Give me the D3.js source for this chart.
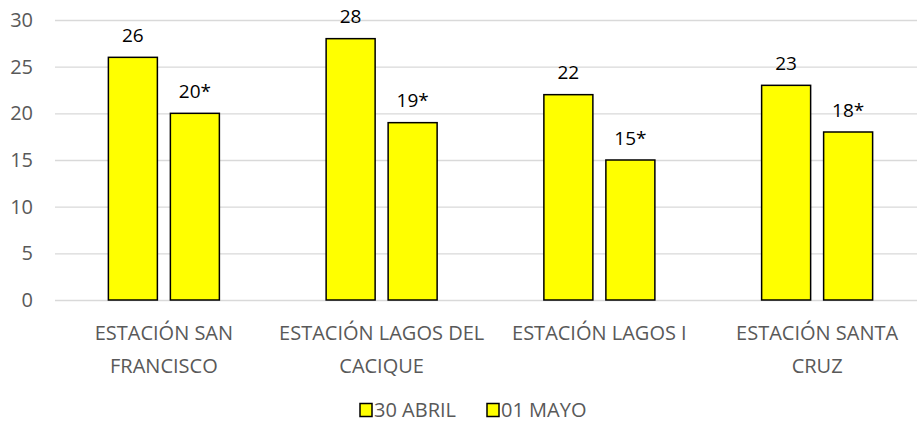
<!DOCTYPE html>
<html>
<head>
<meta charset="utf-8">
<script src="https://cdn.jsdelivr.net/npm/d3@7"></script>
<style>
    body { margin: 0; background: #fff; }
    svg text { font-family: "Open Sans", sans-serif; }
</style>
</head>
<body>
<svg width="917" height="423"></svg>
<script>
var categories = [["ESTACIÓN SAN", "FRANCISCO"], ["ESTACIÓN LAGOS DEL", "CACIQUE"], ["ESTACIÓN LAGOS I"], ["ESTACIÓN SANTA", "CRUZ"]];
var seriesNames = ["30 ABRIL", "01 MAYO"];
var abril30 = [26, 28, 22, 23];
var mayo01 = [20, 19, 15, 18];
var labels30 = ["26", "28", "22", "23"];
var labels01 = ["20*", "19*", "15*", "18*"];
var yTicks = [0, 5, 10, 15, 20, 25, 30];

var chart = function() {
    var svg = d3.select("svg");
    var plotLeft = 55, plotRight = 926, plotTop = 20, plotBottom = 300;

    var x = d3.scaleBand().domain(d3.range(categories.length)).range([plotLeft, plotRight]);
    var y = d3.scaleLinear().domain([0, 30]).range([plotBottom, plotTop]);

    var barW = 49, gap = 13;

    // gridlines
    svg.append("g").selectAll("line").data(yTicks).enter().append("line")
        .attr("x1", plotLeft).attr("x2", 917)
        .attr("y1", function(d) { return y(d) + 0.5; })
        .attr("y2", function(d) { return y(d) + 0.5; })
        .attr("stroke", "#d9d9d9")
        .attr("stroke-width", 1.3);

    // y tick labels
    svg.append("g").selectAll("text").data(yTicks).enter().append("text")
        .attr("x", 33)
        .attr("y", function(d) { return y(d); })
        .attr("dy", "0.35em")
        .attr("text-anchor", "end")
        .attr("fill", "#595959")
        .style("font-size", "20px")
        .text(function(d) { return d; });

    var series = [
        { values: abril30, labels: labels30, offset: -(gap / 2 + barW) },
        { values: mayo01, labels: labels01, offset: gap / 2 }
    ];

    series.forEach(function(s) {
        var g = svg.append("g");
        g.selectAll("rect").data(s.values).enter().append("rect")
            .attr("x", function(d, i) { return x(i) + x.bandwidth() / 2 + s.offset; })
            .attr("y", function(d) { return y(d); })
            .attr("width", barW)
            .attr("height", function(d) { return y(0) - y(d); })
            .attr("fill", "#ffff00")
            .attr("stroke", "#000")
            .attr("stroke-width", 1.5);
        g.selectAll("text").data(s.values).enter().append("text")
            .attr("x", function(d, i) { return x(i) + x.bandwidth() / 2 + s.offset + barW / 2; })
            .attr("y", function(d) { return y(d) - 22; })
            .attr("dy", "0.35em")
            .attr("text-anchor", "middle")
            .attr("fill", "#000")
            .style("font-size", "19px")
            .text(function(d, i) { return s.labels[i]; });
    });

    // category labels
    var cat = svg.append("g").selectAll("text").data(categories).enter().append("text")
        .attr("text-anchor", "middle")
        .attr("fill", "#595959")
        .style("font-size", "20px");
    cat.selectAll("tspan").data(function(d, i) { return d.map(function(t) { return { t: t, i: i }; }); })
        .enter().append("tspan")
        .attr("x", function(d) { return x(d.i) + x.bandwidth() / 2; })
        .attr("y", function(d, j) { return 333 + j * 33; })
        .attr("dy", "0.35em")
        .text(function(d) { return d.t; });

    // legend
    var legendX = [360, 487];
    var legend = svg.append("g").selectAll("g").data(seriesNames).enter().append("g")
        .attr("transform", function(d, i) { return "translate(" + legendX[i] + ",410)"; });
    legend.append("rect")
        .attr("x", 0).attr("y", -6.5)
        .attr("width", 12).attr("height", 13)
        .attr("fill", "#ffff00")
        .attr("stroke", "#000")
        .attr("stroke-width", 1.5);
    legend.append("text")
        .attr("x", 14).attr("y", 0)
        .attr("dy", "0.35em")
        .attr("fill", "#595959")
        .style("font-size", "20px")
        .text(function(d) { return d; });
}();
</script>
</body>
</html>
